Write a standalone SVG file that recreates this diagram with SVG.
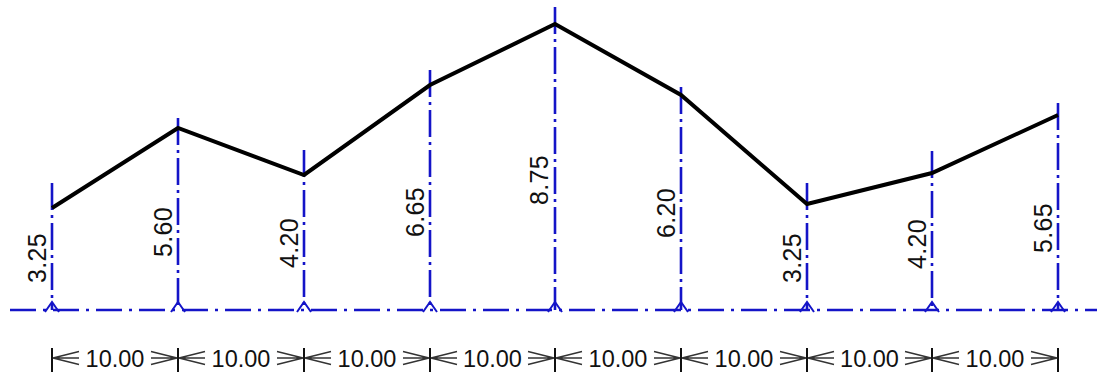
<svg xmlns="http://www.w3.org/2000/svg" width="1097" height="376" viewBox="0 0 1097 376">
<style>
.bg{fill:#ffffff}
.axis{stroke:#1414c8;stroke-width:2.6;fill:none;stroke-dasharray:27 5 3 5}
.datum{stroke:#1414c8;stroke-width:2.6;fill:none;stroke-dasharray:26 7 3 7}
.chev{stroke:#1414c8;stroke-width:2;fill:none}
.profile{stroke:#000;stroke-width:4;fill:none;stroke-linejoin:miter}
.lbl{font-family:"Liberation Sans",Arial,sans-serif;font-size:25px;fill:#111;letter-spacing:0.3px}
.dim{font-family:"Liberation Sans",Arial,sans-serif;font-size:23.5px;fill:#111}
.tick{stroke:#111;stroke-width:2;fill:none}
.arr{stroke:#333;stroke-width:1.4;fill:none}
</style>
<defs>
<path id="chev" class="chev" d="M-7,312 L0,302 L7,312"/>
<path id="arrL" class="arr" d="M27,351.5 L1,358 L27,364.5 M1,358 H27"/>
<path id="arrR" class="arr" d="M-27,351.5 L-1,358 L-27,364.5 M-1,358 H-27"/>
</defs>
<rect class="bg" x="0" y="0" width="1097" height="376"/>

<g id="datum">
<line class="datum" x1="10" y1="310" x2="1097" y2="310"/>
</g>

<g id="stations">
<g id="st1"><line class="axis" x1="52" y1="183" x2="52" y2="310"/><use href="#chev" x="52"/><text class="lbl" text-anchor="middle" transform="translate(46,258) rotate(-90)">3.25</text></g>
<g id="st2"><line class="axis" x1="178" y1="118" x2="178" y2="310"/><use href="#chev" x="178"/><text class="lbl" text-anchor="middle" transform="translate(172,232) rotate(-90)">5.60</text></g>
<g id="st3"><line class="axis" x1="304" y1="150" x2="304" y2="310"/><use href="#chev" x="304"/><text class="lbl" text-anchor="middle" transform="translate(298,243) rotate(-90)">4.20</text></g>
<g id="st4"><line class="axis" x1="430" y1="70" x2="430" y2="310"/><use href="#chev" x="430"/><text class="lbl" text-anchor="middle" transform="translate(424,212) rotate(-90)">6.65</text></g>
<g id="st5"><line class="axis" x1="555" y1="7" x2="555" y2="310"/><use href="#chev" x="555"/><text class="lbl" text-anchor="middle" transform="translate(548,180) rotate(-90)">8.75</text></g>
<g id="st6"><line class="axis" x1="681" y1="87" x2="681" y2="310"/><use href="#chev" x="681"/><text class="lbl" text-anchor="middle" transform="translate(675,213) rotate(-90)">6.20</text></g>
<g id="st7"><line class="axis" x1="807" y1="183" x2="807" y2="310"/><use href="#chev" x="807"/><text class="lbl" text-anchor="middle" transform="translate(801,258) rotate(-90)">3.25</text></g>
<g id="st8"><line class="axis" x1="932" y1="151" x2="932" y2="310"/><use href="#chev" x="932"/><text class="lbl" text-anchor="middle" transform="translate(926,244) rotate(-90)">4.20</text></g>
<g id="st9"><line class="axis" x1="1058" y1="103" x2="1058" y2="310"/><use href="#chev" x="1058"/><text class="lbl" text-anchor="middle" transform="translate(1052,228) rotate(-90)">5.65</text></g>
</g>

<g id="profile">
<polyline class="profile" points="52,208 178,128 304,175 430,85 555,24 681,95 807,204 932,173 1058,115"/>
</g>

<g id="dimensions">
<g id="ticks">
<line class="tick" x1="52" y1="348" x2="52" y2="372"/>
<line class="tick" x1="178" y1="348" x2="178" y2="372"/>
<line class="tick" x1="304" y1="348" x2="304" y2="372"/>
<line class="tick" x1="430" y1="348" x2="430" y2="372"/>
<line class="tick" x1="555" y1="348" x2="555" y2="372"/>
<line class="tick" x1="681" y1="348" x2="681" y2="372"/>
<line class="tick" x1="807" y1="348" x2="807" y2="372"/>
<line class="tick" x1="932" y1="348" x2="932" y2="372"/>
<line class="tick" x1="1058" y1="348" x2="1058" y2="372"/>
</g>
<g id="arrows">
<use href="#arrL" x="52"/><use href="#arrR" x="178"/>
<use href="#arrL" x="178"/><use href="#arrR" x="304"/>
<use href="#arrL" x="304"/><use href="#arrR" x="430"/>
<use href="#arrL" x="430"/><use href="#arrR" x="555"/>
<use href="#arrL" x="555"/><use href="#arrR" x="681"/>
<use href="#arrL" x="681"/><use href="#arrR" x="807"/>
<use href="#arrL" x="807"/><use href="#arrR" x="932"/>
<use href="#arrL" x="932"/><use href="#arrR" x="1058"/>
</g>
<g id="dimtext">
<text class="dim" x="115" y="367" text-anchor="middle">10.00</text>
<text class="dim" x="241" y="367" text-anchor="middle">10.00</text>
<text class="dim" x="367" y="367" text-anchor="middle">10.00</text>
<text class="dim" x="492.5" y="367" text-anchor="middle">10.00</text>
<text class="dim" x="618" y="367" text-anchor="middle">10.00</text>
<text class="dim" x="744" y="367" text-anchor="middle">10.00</text>
<text class="dim" x="869.5" y="367" text-anchor="middle">10.00</text>
<text class="dim" x="995" y="367" text-anchor="middle">10.00</text>
</g>
</g>
</svg>
